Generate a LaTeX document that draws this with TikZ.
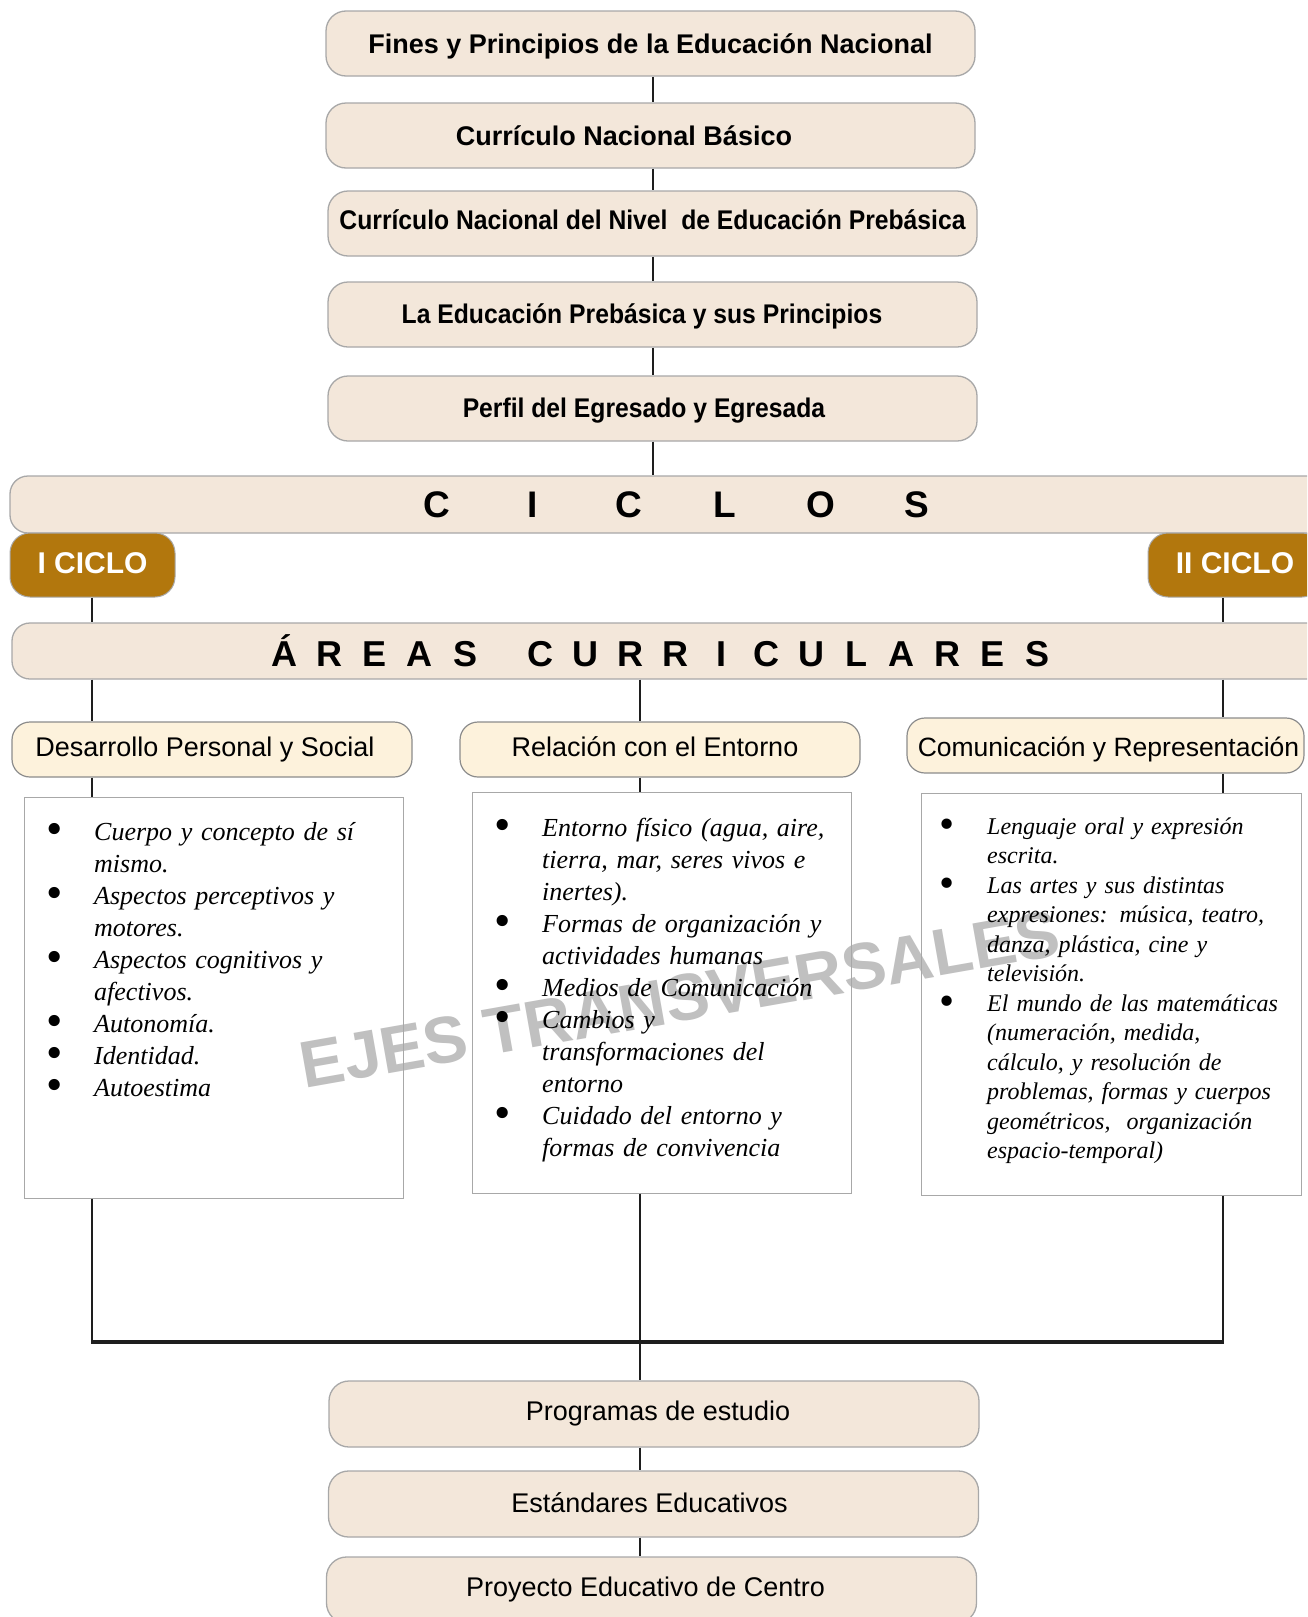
\documentclass[tikz,border=0pt]{standalone}
\usepackage{fontspec}
\usepackage{graphicx}
\setmainfont{Liberation Sans}
\newfontfamily\listfont{Liberation Serif}
\definecolor{beige}{HTML}{F3E7DA}
\definecolor{cream}{HTML}{FDF2DC}
\definecolor{gold}{HTML}{B2770D}
\definecolor{bgray}{HTML}{A8A8A8}
\definecolor{dgray}{HTML}{8C8C8C}
\definecolor{wmcol}{HTML}{C0C0C0}
\definecolor{linecol}{HTML}{1E1E1E}
\newcommand\bul{\hangindent=46pt\hangafter=1\makebox[46pt][l]{\hspace*{-2pt}\raisebox{-4.8pt}{\scalebox{1.8}{\upshape\textbullet}}}}
\begin{document}
\begin{tikzpicture}[x=1pt,y=-1pt,
  topbox/.style={draw=bgray, line width=1.3pt, fill=beige, rounded corners=20pt,
    minimum width=649pt, minimum height=65pt, inner sep=0pt,
    text height=19pt, text depth=0pt,
    font=\fontsize{27}{32}\selectfont\bfseries},
  lowbox/.style={draw=bgray, line width=1.3pt, fill=beige, rounded corners=20pt,
    minimum width=650pt, minimum height=66pt, inner sep=0pt,
    text height=19pt, text depth=5.6pt,
    font=\fontsize{27}{32}\selectfont},
  barbox/.style={draw=bgray, line width=1.3pt, fill=beige, rounded corners=18pt,
    inner sep=0pt},
  ciclobox/.style={draw=bgray, line width=1pt, fill=gold, rounded corners=20pt,
    minimum height=64pt, inner sep=0pt, text=white,
    text height=21.5pt, text depth=5.5pt,
    font=\fontsize{30}{36}\selectfont\bfseries},
  areabox/.style={draw=dgray, line width=1.2pt, fill=cream, rounded corners=18pt,
    minimum height=55pt, inner sep=0pt, text height=19pt, text depth=6pt,
    font=\fontsize{27}{32}\selectfont},
  listbox/.style={draw=bgray, line width=1pt, minimum width=379pt, inner sep=0pt},
  listtext/.style={anchor=base west, inner sep=0pt, text width=360pt, align=left},
  conn/.style={draw=linecol, line width=2pt},
  mainline/.style={draw=linecol, line width=3.2pt}
]
\fill[white] (0,0) rectangle (1307,1617);
\useasboundingbox (0,0) rectangle (1307,1617);
\clip (0,0) rectangle (1307,1617);

% watermark (behind everything)
\node[inner sep=0pt, rotate=10, text=wmcol, font=\fontsize{66}{66}\selectfont\bfseries] (wmk) at (680,999) {EJES TRANSVERSALES};

% column x positions
\coordinate (xt) at (653,0);
\coordinate (xl) at (92,0);
\coordinate (xm) at (640,0);
\coordinate (xr) at (1223,0);

% top chain
\node[topbox] (b1) at (650.5,43.5) {Fines y Principios de la Educación Nacional};
\node[topbox] (b2) at (650.5,135.5) {\hspace*{-53pt}Currículo Nacional Básico};
\node[topbox, text depth=7pt] (b3) at (652.5,223.5) {\scalebox{0.915}[1]{Currículo Nacional del Nivel\ \ de Educación Prebásica}};
\node[topbox, text depth=2pt] (b4) at (652.5,314.5) {\hspace*{-21pt}\scalebox{0.915}[1]{La Educación Prebásica y sus Principios}};
\node[topbox, text depth=2pt] (b5) at (652.5,408.5) {\hspace*{-17pt}\scalebox{0.915}[1]{Perfil del Egresado y Egresada}};

% ciclos
\node[barbox, minimum width=1333pt, minimum height=57pt, font=\fontsize{37}{40}\selectfont\bfseries] (ciclos) at (676.5,504.5)
  {\makebox[96pt]{C}\makebox[96pt]{I}\makebox[96pt]{C}\makebox[96pt]{L}\makebox[96pt]{O}\makebox[96pt]{S}};
\node[ciclobox, minimum width=165pt] (c1) at (92.5,565) {I CICLO};
\node[ciclobox, minimum width=174pt] (c2) at (1235,565) {II CICLO};

% areas
\node[barbox, minimum width=1328pt, minimum height=56pt, font=\fontsize{36}{40}\selectfont\bfseries] (areas) at (676,651)
  {\hspace*{-30pt}\makebox[45.2pt]{Á}\makebox[45.2pt]{R}\makebox[45.2pt]{E}\makebox[45.2pt]{A}\makebox[45.2pt]{S}\hspace*{30pt}%
   \makebox[45.2pt]{C}\makebox[45.2pt]{U}\makebox[45.2pt]{R}\makebox[45.2pt]{R}\makebox[45.2pt]{I}\makebox[45.2pt]{C}\makebox[45.2pt]{U}\makebox[45.2pt]{L}\makebox[45.2pt]{A}\makebox[45.2pt]{R}\makebox[45.2pt]{E}\makebox[45.2pt]{S}};

\node[areabox, minimum width=400pt] (a1) at (212,749.5) {\hspace*{-14pt}Desarrollo Personal y Social};
\node[areabox, minimum width=400pt] (a2) at (660,749.5) {\hspace*{-10pt}Relación con el Entorno};
\node[areabox, minimum width=397pt, text height=21pt, text depth=0pt, font=\fontsize{26.5}{30}\selectfont] (a3) at (1105.5,745.5) {\hspace*{6pt}Comunicación y Representación};

% list boxes
\node[listbox, minimum height=401pt] (l1) at (213.5,997.5) {};
\node[listbox, minimum height=401pt] (l2) at (661.5,992.5) {};
\node[listbox, minimum width=380pt, minimum height=402pt] (l3) at (1111,994) {};

\node[listtext, font=\listfont\itshape\fontsize{26}{32}\selectfont] (t1) at (48,840) {%
\bul Cuerpo y concepto de sí\newline mismo.\par
\bul Aspectos perceptivos y\newline motores.\par
\bul Aspectos cognitivos y\newline afectivos.\par
\bul Autonomía.\par
\bul Identidad.\par
\bul Autoestima\par};

\node[listtext, font=\listfont\itshape\fontsize{26}{32}\selectfont] (t2) at (496,836) {%
\bul Entorno físico (agua, aire,\newline tierra, mar, seres vivos e\newline inertes).\par
\bul Formas de organización y\newline actividades humanas\par
\bul Medios de Comunicación\par
\bul Cambios y\newline transformaciones del\newline entorno\par
\bul Cuidado del entorno y\newline formas de convivencia\par};

\node[listtext, font=\listfont\itshape\fontsize{24}{29.5}\selectfont] (t3) at (941,834) {%
\bul Lenguaje oral y expresión\newline escrita.\par
\bul Las artes y sus distintas\newline expresiones: música, teatro,\newline danza, plástica, cine y\newline televisión.\par
\bul El mundo de las matemáticas\newline (numeración, medida,\newline cálculo, y resolución de\newline problemas, formas y cuerpos\newline geométricos,\ \ organización\newline espacio-temporal)\par};

% bottom chain
\node[lowbox] (p1) at (654,1414) {\hspace*{8pt}Programas de estudio};
\node[lowbox, text depth=1.6pt] (p2) at (653.5,1504) {\hspace*{-8pt}Estándares Educativos};
\node[lowbox] (p3) at (651.5,1590) {\hspace*{-12pt}Proyecto Educativo de Centro};

% junction
\coordinate (jl) at (92,1342);
\coordinate (jr) at (1223,1342);

% connectors
\draw[conn] (b1.south -| xt) -- (b2.north -| xt);
\draw[conn] (b2.south -| xt) -- (b3.north -| xt);
\draw[conn] (b3.south -| xt) -- (b4.north -| xt);
\draw[conn] (b4.south -| xt) -- (b5.north -| xt);
\draw[conn] (b5.south -| xt) -- (ciclos.north -| xt);
\draw[conn] (c1.south -| xl) -- (areas.north -| xl);
\draw[conn] (c2.south -| xr) -- (areas.north -| xr);
\draw[conn] (areas.south -| xl) -- (a1.north -| xl);
\draw[conn] (areas.south -| xm) -- (a2.north -| xm);
\draw[conn] (areas.south -| xr) -- (a3.north -| xr);
\draw[conn] (a1.south -| xl) -- (l1.north -| xl);
\draw[conn] (a2.south -| xm) -- (l2.north -| xm);
\draw[conn] (a3.south -| xr) -- (l3.north -| xr);
\draw[conn] (l1.south -| xl) -- (jl);
\draw[conn] (l3.south -| xr) -- (jr);
\draw[mainline] ([xshift=-1pt]jl) -- ([xshift=1pt]jr);
\draw[conn] (l2.south -| xm) -- (p1.north -| xm);
\draw[conn] (p1.south -| xm) -- (p2.north -| xm);
\draw[conn] (p2.south -| xm) -- (p3.north -| xm);
\end{tikzpicture}
\end{document}
